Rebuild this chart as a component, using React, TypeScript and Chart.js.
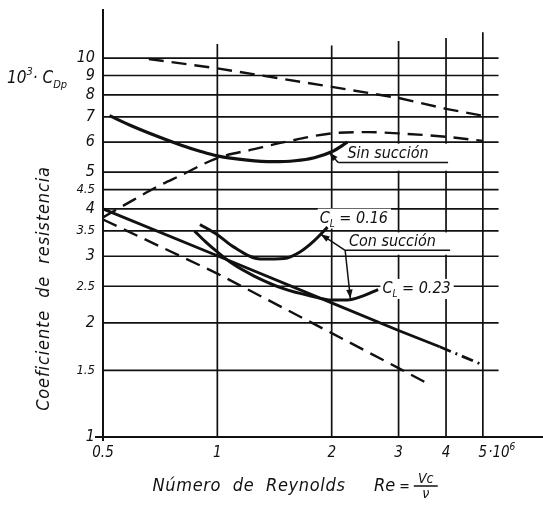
import React, { useEffect, useRef } from "react";
import { Chart, registerables } from "chart.js";

Chart.register(...registerables);

const INK = "#111";
const FONT = "'Liberation Sans Narrow', 'DejaVu Sans Condensed', 'Liberation Sans', sans-serif";

// axes
const X_MIN = 0.5;
const X_MAX = 7.2;
const Y_MIN = 1;
const Y_MAX = 13.4;
const X_TICKS = [0.5, 1, 2, 3, 4, 5];
const X_TICK_LABELS = ["0.5", "1", "2", "3", "4", "5"];
const X_EXP_TEXT = "·10";
const X_EXP_SUP = "6";
const Y_TICKS = [1, 1.5, 2, 2.5, 3, 3.5, 4, 4.5, 5, 6, 7, 8, 9, 10];
const Y_TICK_LABELS = ["1", "1.5", "2", "2.5", "3", "3.5", "4", "4.5", "5", "6", "7", "8", "9", "10"];
const X_GRID = [1, 2, 3, 4, 5];
const X_GRID_TOP = [10.9, 10.8, 11.1, 11.3, 11.7];
const GRID_X_END = 5.5;

// curves (Re in millions, 10^3 * C_Dp)
const UPPER_DASH_RE = [0.66, 1, 2, 3, 4, 5];
const UPPER_DASH_CD = [9.95, 9.4, 8.4, 7.85, 7.35, 7.05];
const RISING_DASH_RE = [0.5, 0.6, 0.7, 0.8, 1, 1.25, 1.5, 2, 2.5, 3, 4, 5];
const RISING_DASH_CD = [3.8, 4.22, 4.6, 4.9, 5.45, 5.75, 6.0, 6.33, 6.38, 6.33, 6.2, 6.05];
const SIN_SUCCION_RE = [0.52, 0.6, 0.7, 0.8, 0.9, 1, 1.2, 1.4, 1.6, 1.8, 2, 2.2];
const SIN_SUCCION_CD = [7.05, 6.6, 6.2, 5.9, 5.68, 5.52, 5.38, 5.33, 5.36, 5.46, 5.66, 6.0];
const STRAIGHT_RE = [0.5, 1, 2, 3, 3.85];
const STRAIGHT_CD = [4.0, 3.01, 2.26, 1.91, 1.73];
const STRAIGHT_TAIL_RE = [3.85, 5];
const STRAIGHT_TAIL_CD = [1.73, 1.55];
const LOW_DASH_RE = [0.5, 1, 2, 3, 3.6];
const LOW_DASH_CD = [3.75, 2.7, 1.88, 1.52, 1.38];
const CL016_RE = [0.9, 1.0, 1.1, 1.3, 1.5, 1.65, 1.8, 1.95];
const CL016_CD = [3.64, 3.42, 3.18, 2.95, 2.96, 3.08, 3.3, 3.58];
const CL023_RE = [0.87, 0.93, 1, 1.1, 1.25, 1.5, 1.75, 2, 2.2, 2.4, 2.65];
const CL023_CD = [3.5, 3.28, 3.08, 2.86, 2.66, 2.46, 2.36, 2.3, 2.3, 2.35, 2.45];

// annotations (data coordinates)
const SIN_TEXT = { text: "Sin succión", re: 2.2, cd: 5.45 };
const SIN_UNDERLINE = { re0: 2.08, re1: 4.05, cd: 5.3 };
const SIN_TIP = { re: 1.97, cd: 5.64 };
const SIN_BOX = { re0: 2.1, re1: 4.6, cdTop: 6, cdBottom: 5 };
const CON_TEXT = { text: "Con succión", re: 2.22, cd: 3.19 };
const CON_UNDERLINE = { re0: 2.17, re1: 4.1, cd: 3.11 };
const CON_TIP_016 = { re: 1.87, cd: 3.43 };
const CON_TIP_023 = { re: 2.24, cd: 2.32 };
const CON_BOX = { re0: 2.12, re1: 4.6, cdTop: 3.5, cdBottom: 3 };
const CL016_LABEL = { value: " = 0.16", re: 1.86, cd: 3.68 };
const CL023_LABEL = { value: " = 0.23", re: 2.72, cd: 2.4 };

const Y_TITLE = "Coeficiente  de  resistencia";
const X_TITLE = "Número  de  Reynolds";

function pts(xs: number[], ys: number[]) {
  return xs.map((x, i) => ({ x, y: ys[i] }));
}

function font(size: number) {
  return `italic ${size}px ${FONT}`;
}

type Part = { t: string; size: number; dy?: number };

function richWidth(ctx: CanvasRenderingContext2D, parts: Part[]) {
  let w = 0;
  for (const p of parts) {
    ctx.font = font(p.size);
    w += ctx.measureText(p.t).width;
  }
  return w;
}

function drawRich(ctx: CanvasRenderingContext2D, parts: Part[], x: number, y: number) {
  let cx = x;
  ctx.textAlign = "left";
  ctx.textBaseline = "alphabetic";
  for (const p of parts) {
    ctx.font = font(p.size);
    ctx.fillText(p.t, cx, y + (p.dy || 0));
    cx += ctx.measureText(p.t).width;
  }
  return cx;
}

function fitText(ctx: CanvasRenderingContext2D, text: string, x: number, y: number, target: number) {
  const c: any = ctx;
  c.letterSpacing = "0px";
  const w0 = ctx.measureText(text).width;
  const ls = (target - w0) / Math.max(1, text.length);
  c.letterSpacing = `${ls}px`;
  ctx.textAlign = "center";
  ctx.fillText(text, x, y);
  c.letterSpacing = "0px";
}

function arrow(ctx: CanvasRenderingContext2D, x0: number, y0: number, x1: number, y1: number) {
  ctx.beginPath();
  ctx.moveTo(x0, y0);
  ctx.lineTo(x1, y1);
  ctx.stroke();
  const a = Math.atan2(y1 - y0, x1 - x0);
  const L = 9;
  const W = 3.2;
  ctx.beginPath();
  ctx.moveTo(x1, y1);
  ctx.lineTo(x1 - L * Math.cos(a) + W * Math.sin(a), y1 - L * Math.sin(a) - W * Math.cos(a));
  ctx.lineTo(x1 - L * Math.cos(a) - W * Math.sin(a), y1 - L * Math.sin(a) + W * Math.cos(a));
  ctx.closePath();
  ctx.fill();
}

function clParts(value: string): Part[] {
  return [
    { t: "C", size: 16 },
    { t: "L", size: 10, dy: 4 },
    { t: value, size: 16 },
  ];
}

const drawPlugin = {
  id: "drawing",
  beforeDatasetsDraw(chart: any) {
    const { ctx, scales } = chart;
    const x = scales.x;
    const y = scales.y;
    const px = (v: number) => x.getPixelForValue(v);
    const py = (v: number) => y.getPixelForValue(v);
    ctx.save();
    ctx.strokeStyle = INK;
    ctx.lineWidth = 1.7;
    for (const v of Y_TICKS) {
      if (v === Y_MIN) continue;
      ctx.beginPath();
      ctx.moveTo(px(X_MIN), py(v));
      ctx.lineTo(px(GRID_X_END), py(v));
      ctx.stroke();
    }
    X_GRID.forEach((v, i) => {
      ctx.beginPath();
      ctx.moveTo(px(v), py(Y_MIN));
      ctx.lineTo(px(v), py(X_GRID_TOP[i]));
      ctx.stroke();
    });
    // small stubs at the origin
    ctx.lineWidth = 2;
    ctx.beginPath();
    ctx.moveTo(px(X_MIN) - 8, py(Y_MIN));
    ctx.lineTo(px(X_MIN), py(Y_MIN));
    ctx.moveTo(px(X_MIN), py(Y_MIN));
    ctx.lineTo(px(X_MIN), py(Y_MIN) + 4);
    ctx.stroke();

    // white breaks behind the labels
    ctx.fillStyle = "#fff";
    for (const b of [SIN_BOX, CON_BOX]) {
      const t = py(b.cdTop) + 1.5;
      const bt = py(b.cdBottom) - 1.5;
      ctx.fillRect(px(b.re0), t, px(b.re1) - px(b.re0), bt - t);
    }
    for (const l of [CL016_LABEL, CL023_LABEL]) {
      const w = richWidth(ctx, clParts(l.value));
      ctx.fillRect(px(l.re) - 2, py(l.cd) - 14, w + 5, 20);
    }
    ctx.restore();
  },
  afterDatasetsDraw(chart: any) {
    const { ctx, scales } = chart;
    const x = scales.x;
    const y = scales.y;
    const px = (v: number) => x.getPixelForValue(v);
    const py = (v: number) => y.getPixelForValue(v);
    ctx.save();
    ctx.fillStyle = INK;
    ctx.strokeStyle = INK;

    // Sin succión
    ctx.font = font(16);
    ctx.textAlign = "left";
    ctx.fillText(SIN_TEXT.text, px(SIN_TEXT.re), py(SIN_TEXT.cd));
    ctx.lineWidth = 1.5;
    ctx.beginPath();
    ctx.moveTo(px(SIN_UNDERLINE.re0), py(SIN_UNDERLINE.cd));
    ctx.lineTo(px(SIN_UNDERLINE.re1), py(SIN_UNDERLINE.cd));
    ctx.stroke();
    arrow(ctx, px(SIN_UNDERLINE.re0), py(SIN_UNDERLINE.cd), px(SIN_TIP.re), py(SIN_TIP.cd));

    // Con succión
    ctx.font = font(16);
    ctx.textAlign = "left";
    ctx.fillText(CON_TEXT.text, px(CON_TEXT.re), py(CON_TEXT.cd));
    ctx.beginPath();
    ctx.moveTo(px(CON_UNDERLINE.re0), py(CON_UNDERLINE.cd));
    ctx.lineTo(px(CON_UNDERLINE.re1), py(CON_UNDERLINE.cd));
    ctx.stroke();
    arrow(ctx, px(CON_UNDERLINE.re0), py(CON_UNDERLINE.cd), px(CON_TIP_016.re), py(CON_TIP_016.cd));
    arrow(ctx, px(CON_UNDERLINE.re0), py(CON_UNDERLINE.cd), px(CON_TIP_023.re), py(CON_TIP_023.cd));

    // C_L labels
    drawRich(ctx, clParts(CL016_LABEL.value), px(CL016_LABEL.re), py(CL016_LABEL.cd));
    drawRich(ctx, clParts(CL023_LABEL.value), px(CL023_LABEL.re), py(CL023_LABEL.cd));

    ctx.restore();
  },
  afterDraw(chart: any) {
    const { ctx, scales, chartArea } = chart;
    const x = scales.x;
    const y = scales.y;
    ctx.save();
    ctx.fillStyle = INK;

    // exponent after the "5" tick label
    const p5 = x.getPixelForValue(X_TICKS[X_TICKS.length - 1]);
    ctx.font = font(15);
    const baseY = chartArea.bottom + 20;
    const w5 = ctx.measureText(X_TICK_LABELS[X_TICK_LABELS.length - 1]).width;
    drawRich(ctx, [{ t: X_EXP_TEXT, size: 15 }, { t: X_EXP_SUP, size: 10, dy: -7 }], p5 + w5 / 2 + 1, baseY);

    // y unit label: 10^3 · C_Dp
    drawRich(
      ctx,
      [
        { t: "10", size: 17 },
        { t: "3", size: 11, dy: -8 },
        { t: "· ", size: 17 },
        { t: "C", size: 17 },
        { t: "Dp", size: 11, dy: 5 },
      ],
      7,
      y.getPixelForValue(8.6)
    );

    // y title
    ctx.save();
    ctx.translate(44, (chartArea.top + chartArea.bottom) / 2 + 65);
    ctx.rotate(-Math.PI / 2);
    ctx.font = font(18);
    ctx.textBaseline = "middle";
    fitText(ctx, Y_TITLE, 0, 0, 245);
    ctx.restore();

    // x title
    ctx.font = font(18);
    ctx.textBaseline = "alphabetic";
    const tY = chartArea.bottom + 54;
    fitText(ctx, X_TITLE, 249, tY, 193);
    const rx = drawRich(ctx, [{ t: "Re", size: 18 }, { t: " = ", size: 14 }], 374, tY);
    ctx.font = font(14);
    ctx.textAlign = "center";
    const fw = 24;
    ctx.fillText("Vc", rx + fw / 2, tY - 8);
    ctx.fillText("ν", rx + fw / 2, tY + 7);
    ctx.lineWidth = 1.5;
    ctx.strokeStyle = INK;
    ctx.beginPath();
    ctx.moveTo(rx, tY - 5);
    ctx.lineTo(rx + fw, tY - 5);
    ctx.stroke();
    ctx.restore();
  },
};

export default function App() {
  const ref = useRef<HTMLCanvasElement>(null);
  useEffect(() => {
    document.body.style.margin = "0";
    const canvas = ref.current!;
    const base = { showLine: true, pointRadius: 0, borderColor: INK, backgroundColor: INK, fill: false };
    const chart = new Chart(canvas, {
      type: "scatter",
      data: {
        datasets: [
          { ...base, data: pts(UPPER_DASH_RE, UPPER_DASH_CD), borderWidth: 2.4, borderDash: [15, 8], tension: 0 },
          { ...base, data: pts(RISING_DASH_RE, RISING_DASH_CD), borderWidth: 2.4, borderDash: [15, 8], cubicInterpolationMode: "monotone" },
          { ...base, data: pts(SIN_SUCCION_RE, SIN_SUCCION_CD), borderWidth: 3.2, cubicInterpolationMode: "monotone" },
          { ...base, data: pts(STRAIGHT_RE, STRAIGHT_CD), borderWidth: 2.8, tension: 0 },
          { ...base, data: pts(STRAIGHT_TAIL_RE, STRAIGHT_TAIL_CD), borderWidth: 2.8, borderDash: [12, 5, 2, 5], tension: 0 },
          { ...base, data: pts(LOW_DASH_RE, LOW_DASH_CD), borderWidth: 2.4, borderDash: [15, 8], tension: 0 },
          { ...base, data: pts(CL016_RE, CL016_CD), borderWidth: 3, cubicInterpolationMode: "monotone" },
          { ...base, data: pts(CL023_RE, CL023_CD), borderWidth: 3, cubicInterpolationMode: "monotone" },
        ] as any,
      },
      options: {
        animation: false,
        responsive: false,
        devicePixelRatio: 1,
        layout: { padding: { top: 10, left: 0, right: 0, bottom: 0 } },
        plugins: { legend: { display: false }, tooltip: { enabled: false } },
        events: [],
        scales: {
          x: {
            type: "logarithmic",
            min: X_MIN,
            max: X_MAX,
            afterBuildTicks: (s: any) => {
              s.ticks = X_TICKS.map((v) => ({ value: v }));
            },
            afterFit: (s: any) => {
              s.height = 68;
              s.paddingLeft = 0;
              s.paddingRight = 0;
            },
            ticks: {
              autoSkip: false,
              maxRotation: 0,
              minRotation: 0,
              padding: 7,
              color: INK,
              font: { family: FONT, size: 15, style: "italic" },
              callback: (_v: any, i: number) => X_TICK_LABELS[i],
            },
            grid: { display: false, drawTicks: false },
            border: { display: true, color: INK, width: 2 },
          },
          y: {
            type: "logarithmic",
            min: Y_MIN,
            max: Y_MAX,
            afterBuildTicks: (s: any) => {
              s.ticks = Y_TICKS.map((v) => ({ value: v }));
            },
            afterFit: (s: any) => {
              s.width = 103;
              s.paddingTop = 0;
              s.paddingBottom = 0;
            },
            ticks: {
              autoSkip: false,
              padding: 8,
              color: INK,
              font: (c: any) => ({
                family: FONT,
                size: (Y_TICK_LABELS[c.index] || "").includes(".") ? 13 : 16,
                style: "italic",
              }),
              callback: (_v: any, i: number) => Y_TICK_LABELS[i],
            },
            grid: { display: false, drawTicks: false },
            border: { display: true, color: INK, width: 2 },
          },
        } as any,
      },
      plugins: [drawPlugin],
    });
    return () => chart.destroy();
  }, []);
  return (
    <div style={{ width: 543, height: 505, background: "#fff" }}>
      <canvas ref={ref} width={543} height={505} style={{ display: "block", width: 543, height: 505 }} />
    </div>
  );
}
